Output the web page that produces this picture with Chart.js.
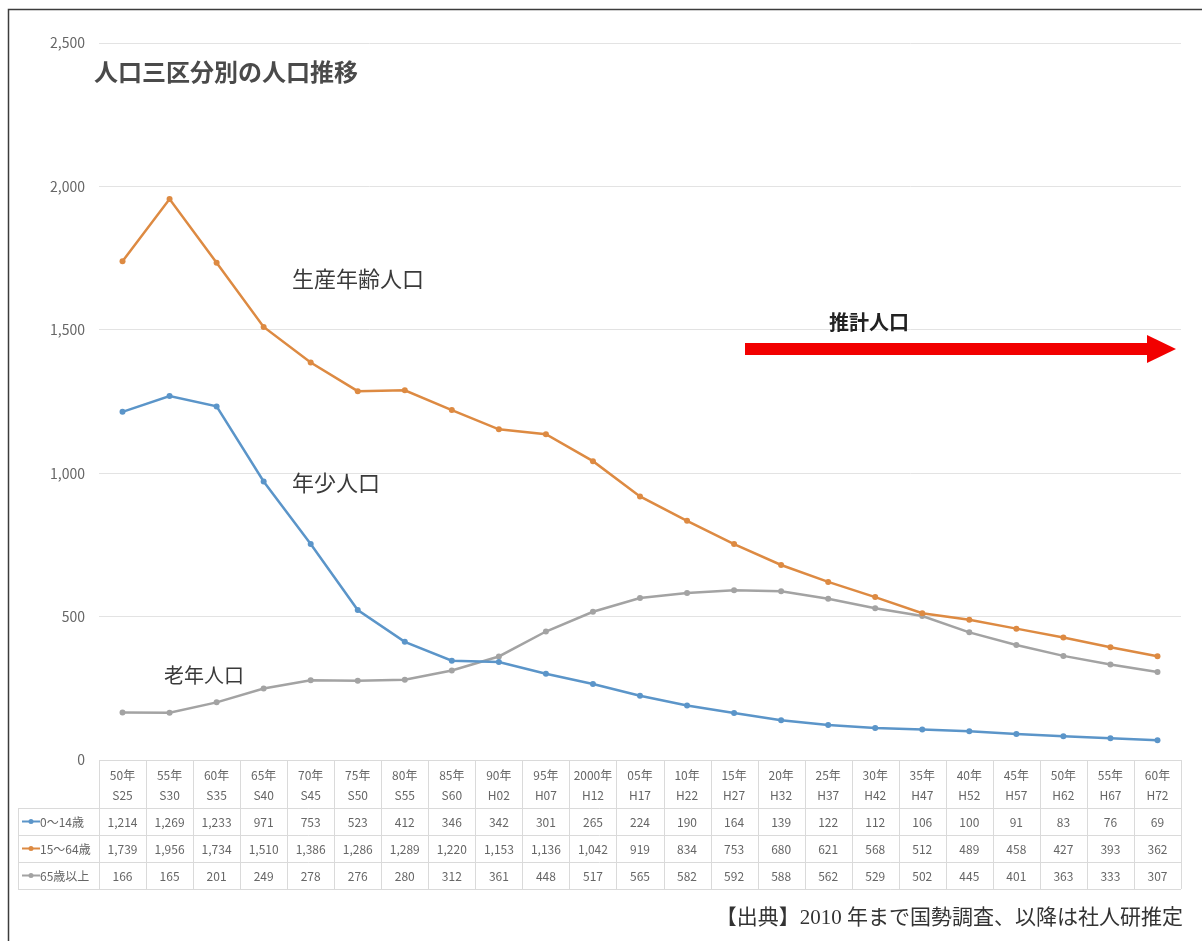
<!DOCTYPE html>
<html lang="ja">
<head>
<meta charset="utf-8">
<title>人口三区分別の人口推移</title>
<script src="https://cdn.jsdelivr.net/npm/chart.js@4"></script>
<style>
  body { margin: 0; background: #fff; }
  #canvasContainer { width: 1202px; height: 941px; }
</style>
</head>
<body>
<div id="canvasContainer"><canvas id="myChart" width="1202" height="941"></canvas></div>
<script>
const anios = ["50年","55年","60年","65年","70年","75年","80年","85年","90年","95年","2000年","05年","10年","15年","20年","25年","30年","35年","40年","45年","50年","55年","60年"]
const wareki = ["S25","S30","S35","S40","S45","S50","S55","S60","H02","H07","H12","H17","H22","H27","H32","H37","H42","H47","H52","H57","H62","H67","H72"]

const nenshou = [1214,1269,1233,971,753,523,412,346,342,301,265,224,190,164,139,122,112,106,100,91,83,76,69]
const seisan = [1739,1956,1734,1510,1386,1286,1289,1220,1153,1136,1042,919,834,753,680,621,568,512,489,458,427,393,362]
const rounen = [166,165,201,249,278,276,280,312,361,448,517,565,582,592,588,562,529,502,445,401,363,333,307]

const serieNombres = ["0～14歳","15～64歳","65歳以上"]
const colores = ["#5b95c9","#dd8a42","#a3a3a3"]
const yTicks = [0,500,1000,1500,2000,2500]

const fuente = '"Noto Sans CJK JP", "Noto Sans", sans-serif'
const fmt = (v) => v.toLocaleString("en-US")

// tabla de datos + anotaciones
const tablaPlugin = {
  id: "tabla",
  afterDraw: (chart) => {
    const ctx = chart.ctx
    const x = chart.scales.x
    const area = chart.chartArea
    const half = (x.getPixelForValue(1) - x.getPixelForValue(0)) / 2
    const izq = 18
    const filas = [760, 808, 835, 862, 889]
    const valores = [nenshou, seisan, rounen]

    ctx.save()
    ctx.strokeStyle = "#dadada"
    ctx.lineWidth = 1
    // lineas horizontales
    for (let r = 0; r < filas.length; r++) {
      ctx.beginPath()
      ctx.moveTo(r === 0 ? area.left : izq, filas[r] + 0.5)
      ctx.lineTo(area.right, filas[r] + 0.5)
      ctx.stroke()
    }
    // lineas verticales
    ctx.beginPath()
    ctx.moveTo(izq + 0.5, filas[1]); ctx.lineTo(izq + 0.5, filas[4]); ctx.stroke()
    for (let i = 0; i <= anios.length; i++) {
      let px = Math.round(x.getPixelForValue(i) - half) + 0.5
      ctx.beginPath(); ctx.moveTo(px, filas[0]); ctx.lineTo(px, filas[4]); ctx.stroke()
    }

    ctx.fillStyle = "#666"
    ctx.textAlign = "center"
    ctx.textBaseline = "middle"
    ctx.font = "12px " + fuente
    for (let i = 0; i < anios.length; i++) {
      let cx = x.getPixelForValue(i)
      ctx.fillText(anios[i], cx, 775)
      ctx.fillText(wareki[i], cx, 795)
      for (let s = 0; s < valores.length; s++) {
        ctx.fillText(fmt(valores[s][i]), cx, (filas[s + 1] + filas[s + 2]) / 2 + 1)
      }
    }
    // leyenda en la tabla
    ctx.textAlign = "left"
    for (let s = 0; s < serieNombres.length; s++) {
      let cy = (filas[s + 1] + filas[s + 2]) / 2
      ctx.strokeStyle = colores[s]
      ctx.lineWidth = 2
      ctx.beginPath(); ctx.moveTo(22, cy); ctx.lineTo(40, cy); ctx.stroke()
      ctx.fillStyle = colores[s]
      ctx.beginPath(); ctx.arc(31, cy, 2.5, 0, Math.PI * 2); ctx.fill()
      ctx.fillStyle = "#666"
      ctx.font = "12px " + fuente
      ctx.fillText(serieNombres[s], 40, cy + 1)
    }

    // titulo
    ctx.fillStyle = "#4a4a4a"
    ctx.font = "bold 24px " + fuente
    ctx.fillText("人口三区分別の人口推移", 94, 72)

    // etiquetas de las series
    ctx.fillStyle = "#3a3a3a"
    ctx.font = "22px " + fuente
    ctx.fillText("生産年齢人口", 292, 279)
    ctx.fillText("年少人口", 292, 483)
    ctx.font = "20px " + fuente
    ctx.fillText("老年人口", 164, 675)

    // flecha de poblacion estimada
    ctx.fillStyle = "#222"
    ctx.font = "bold 20px " + fuente
    ctx.fillText("推計人口", 829, 322)
    ctx.fillStyle = "#f20000"
    ctx.fillRect(745, 343, 404, 12)
    ctx.beginPath()
    ctx.moveTo(1147, 335); ctx.lineTo(1176, 349); ctx.lineTo(1147, 363)
    ctx.closePath(); ctx.fill()

    // fuente
    ctx.fillStyle = "#333"
    ctx.textAlign = "right"
    ctx.font = '21px "Liberation Serif", "Noto Sans CJK JP", serif'
    ctx.fillText("【出典】2010 年まで国勢調査、以降は社人研推定", 1183, 918)

    // marco
    ctx.strokeStyle = "#3c3c3c"
    ctx.lineWidth = 1.5
    ctx.beginPath()
    ctx.moveTo(1202, 9.5); ctx.lineTo(8.5, 9.5); ctx.lineTo(8.5, 941)
    ctx.stroke()
    ctx.restore()
  }
}

const crearSerie = (label, data, color) => ({
  label: label,
  data: data,
  borderColor: color,
  backgroundColor: color,
  borderWidth: 2.5,
  pointRadius: 3,
  pointBorderWidth: 0,
  tension: 0
})

const ctx = document.getElementById("myChart").getContext("2d")
const myChart = new Chart(ctx, {
  type: "line",
  data: {
    labels: anios,
    datasets: [
      crearSerie(serieNombres[0], nenshou, colores[0]),
      crearSerie(serieNombres[1], seisan, colores[1]),
      crearSerie(serieNombres[2], rounen, colores[2])
    ]
  },
  options: {
    responsive: false,
    animation: false,
    layout: { padding: { top: 43, right: 21, bottom: 181, left: 0 } },
    plugins: { legend: { display: false }, tooltip: { enabled: false } },
    scales: {
      x: { display: false, offset: true },
      y: {
        min: 0,
        max: 2500,
        afterBuildTicks: (s) => { s.ticks = yTicks.map((v) => ({ value: v })) },
        afterFit: (s) => { s.width = 99 },
        border: { display: false },
        grid: { color: "#e3e3e3", drawTicks: false },
        ticks: {
          padding: 14,
          color: "#666",
          font: { size: 14, family: fuente },
          callback: (v) => fmt(v)
        }
      }
    }
  },
  plugins: [tablaPlugin]
})
</script>
</body>
</html>
